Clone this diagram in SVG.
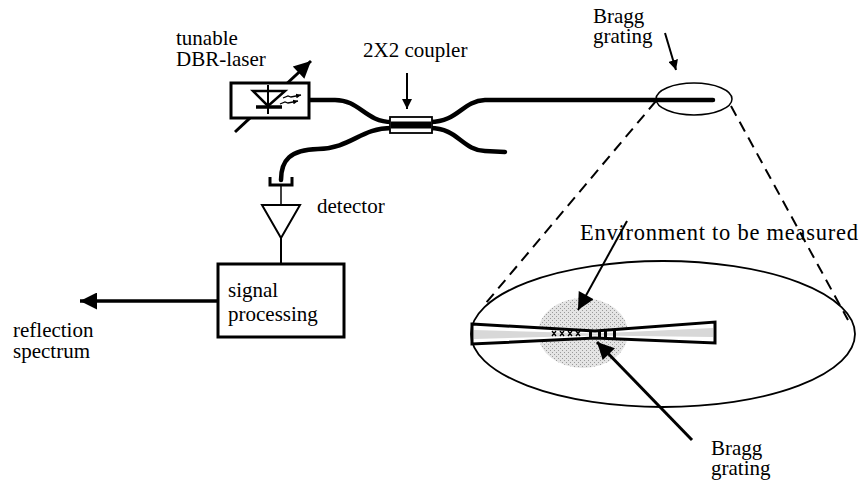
<svg xmlns="http://www.w3.org/2000/svg" width="866" height="482" viewBox="0 0 866 482">
  <defs>
    <marker id="head" viewBox="0 0 10 10" refX="10" refY="5" markerWidth="10" markerHeight="10" markerUnits="userSpaceOnUse" orient="auto">
      <path d="M0,0 L10,5 L0,10 Z" fill="#000"/>
    </marker>
    <marker id="headBig" viewBox="0 0 10 10" refX="10" refY="5" markerWidth="20" markerHeight="17" markerUnits="userSpaceOnUse" orient="auto">
      <path d="M0,0 L10,5 L0,10 Z" fill="#000"/>
    </marker>
    <marker id="small" viewBox="0 0 10 10" refX="10" refY="5" markerWidth="5" markerHeight="5" markerUnits="userSpaceOnUse" orient="auto">
      <path d="M0,0 L10,5 L0,10 Z" fill="#000"/>
    </marker>
    <pattern id="speckle" width="4" height="4" patternUnits="userSpaceOnUse">
      <rect width="4" height="4" fill="#e4e4e4"/>
      <rect x="0" y="0" width="1" height="1" fill="#9a9a9a"/>
      <rect x="2" y="2" width="1" height="1" fill="#9a9a9a"/>
    </pattern>
  </defs>
  <style>
    .fiber { fill: none; stroke: #000; stroke-width: 4.5; stroke-linecap: round; }
    .thin { fill: none; stroke: #000; stroke-width: 2; }
    .box { fill: #fff; stroke: #000; stroke-width: 3; }
    .dash { fill: none; stroke: #000; stroke-width: 2; stroke-dasharray: 11 7; }
  </style>

  <rect width="866" height="482" fill="#fff"/>

  <!-- fibres, pointers and signal lines -->
  <g id="connectors">
    <!-- fibre from laser to coupler -->
    <path class="fiber" d="M309,100 L335,100 C360,100 365,122 392,122"/>
    <!-- fibre from coupler down to detector -->
    <path class="fiber" d="M392,128 C360,128 352,148 318,149 C290,150 281,160 281,180"/>
    <!-- fibre from coupler to Bragg grating -->
    <path class="fiber" d="M430,122 C458,122 462,101 485,100 L713,100"/>
    <!-- unused coupler output -->
    <path class="fiber" d="M430,128 C458,128 462,150 485,151 L505,152"/>
    <!-- coupler pointer -->
    <line class="thin" x1="407" y1="73" x2="407" y2="109" stroke-width="1.5" marker-end="url(#head)"/>
    <!-- upper Bragg grating pointer -->
    <line class="thin" x1="665" y1="33" x2="676" y2="70" stroke-width="1.5" marker-end="url(#head)"/>
    <!-- zoom lines -->
    <line class="dash" x1="656" y1="101" x2="486" y2="303"/>
    <line class="dash" x1="731" y1="106" x2="848" y2="320"/>
    <!-- detector to signal processing -->
    <line class="thin" x1="281" y1="238" x2="281" y2="263" stroke-width="1.5"/>
    <!-- reflection spectrum output -->
    <line x1="217" y1="301" x2="80" y2="301" stroke="#000" stroke-width="3.5" marker-end="url(#headBig)"/>
  </g>

  <g font-family="Liberation Serif, serif" font-size="21" fill="#000">
  <!-- tunable DBR laser -->
  <g id="laser">
    <line x1="235" y1="132" x2="311" y2="61" stroke="#000" stroke-width="3" marker-end="url(#headBig)"/>
    <rect class="box" x="231" y="83" width="78" height="35"/>
    <path d="M253,91 L285,91 L268,106 Z" fill="none" stroke="#000" stroke-width="2.5"/>
    <line x1="268" y1="85" x2="268" y2="114" stroke="#000" stroke-width="2"/>
    <line x1="256" y1="107" x2="282" y2="107" stroke="#000" stroke-width="3.5"/>
    <path d="M283,98 L288,96 L291,97 L301,95" fill="none" stroke="#000" stroke-width="1.3" marker-end="url(#small)"/>
    <path d="M280,104 L285,102 L288,103 L298,101" fill="none" stroke="#000" stroke-width="1.3" marker-end="url(#small)"/>
    <text x="176" y="45">tunable</text>
    <text x="176" y="66">DBR-laser</text>
  </g>

  <!-- 2x2 coupler -->
  <g id="coupler">
    <rect x="390" y="117" width="42" height="16" fill="#fff" stroke="#000" stroke-width="1.8"/>
    <rect x="391" y="121.5" width="40" height="7" fill="#000"/>
    <text x="363" y="57">2X2 coupler</text>
  </g>

  <!-- detector -->
  <g id="detector">
    <path d="M270,177 L270,185 L292,185 L292,177" fill="none" stroke="#000" stroke-width="3"/>
    <line x1="281" y1="185" x2="281" y2="205" stroke="#000" stroke-width="1.5"/>
    <path d="M262,205 L300,205 L281,238 Z" fill="#fff" stroke="#000" stroke-width="2"/>
    <text x="317" y="213">detector</text>
  </g>

  <!-- signal processing -->
  <g id="signal-processing">
    <rect class="box" x="218" y="264" width="126" height="73"/>
    <text x="228" y="297">signal</text>
    <text x="228" y="321">processing</text>
  </g>

  <g id="reflection-label">
    <text x="13" y="337">reflection</text>
    <text x="13" y="358">spectrum</text>
  </g>

  <!-- Bragg grating on the fibre -->
  <g id="bragg-grating">
    <ellipse cx="694" cy="99" rx="38" ry="16" fill="none" stroke="#000" stroke-width="1.5"/>
    <text x="593" y="23">Bragg</text>
    <text x="593" y="43">grating</text>
  </g>

  <!-- magnified view of the grating -->
  <g id="magnified-view">
    <ellipse cx="663" cy="334" rx="192" ry="73" fill="none" stroke="#000" stroke-width="1.8"/>
    <ellipse cx="583" cy="333" rx="45" ry="35" fill="url(#speckle)"/>
    <path d="M472,324 L595,331 L715,322 L715,343 L595,338 L472,344 Z" fill="#fff" stroke="#000" stroke-width="3"/>
    <path d="M474,330 L595,333.5 L713,328 L713,337 L595,335.5 L474,339 Z" fill="#d8d8d8"/>
    <g fill="none" stroke="#000" stroke-width="1.3">
      <path d="M552,331 l4,5 M556,331 l-4,5 M560,331 l4,5 M564,331 l-4,5 M568,331 l4,5 M572,331 l-4,5 M576,331 l4,5 M580,331 l-4,5"/>
    </g>
    <g fill="#000">
      <rect x="589" y="330" width="3" height="8"/>
      <rect x="598" y="330" width="3" height="8"/>
      <rect x="604" y="330" width="3" height="8"/>
      <rect x="613" y="329" width="3" height="9"/>
    </g>
    <line x1="627" y1="221" x2="578" y2="310" stroke="#000" stroke-width="2" marker-end="url(#headBig)"/>
    <line x1="692" y1="440" x2="597" y2="342" stroke="#000" stroke-width="3" marker-end="url(#headBig)"/>
    <text x="580" y="240" font-size="22.5" textLength="278" lengthAdjust="spacing">Environment to be measured</text>
    <text x="711" y="455">Bragg</text>
    <text x="711" y="475">grating</text>
  </g>
  </g>
</svg>
